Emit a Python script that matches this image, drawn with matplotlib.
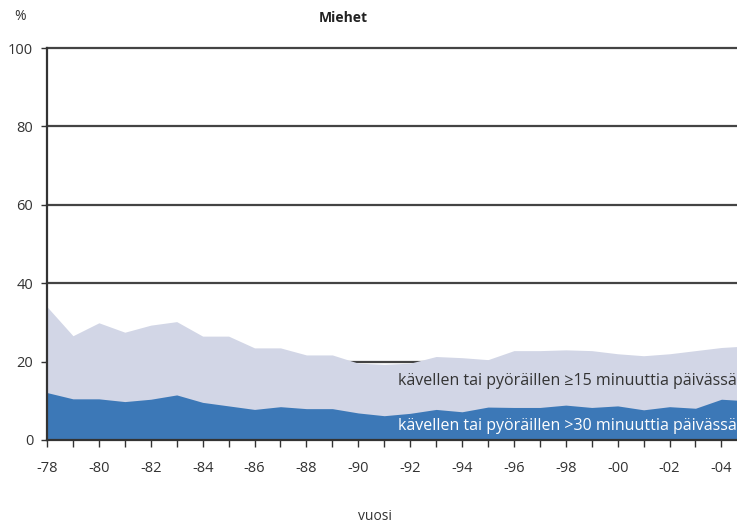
import numpy as np
import matplotlib
matplotlib.use('Agg')
import matplotlib.pyplot as plt

# data (percent of men)
years = np.arange(1978, 2006)
walk15 = [34.0, 26.6, 29.9, 27.5, 29.3, 30.2, 26.5, 26.5, 23.5, 23.5,
          21.7, 21.7, 19.6, 19.3, 19.6, 21.3, 21.0, 20.5, 22.8, 22.8,
          23.0, 22.8, 22.0, 21.5, 22.0, 22.8, 23.6, 24.0]
walk30 = [12.1, 10.5, 10.5, 9.8, 10.4, 11.5, 9.6, 8.7, 7.8, 8.5,
          8.0, 8.0, 6.9, 6.2, 6.8, 7.8, 7.2, 8.4, 8.3, 8.3,
          8.9, 8.3, 8.7, 7.7, 8.5, 8.1, 10.4, 10.0]
yticks = [0, 20, 40, 60, 80, 100]
xlabel_years = list(range(1978, 2005, 2))
xlabels = ['-%02d' % (y % 100) for y in xlabel_years]

plt.rcParams['font.family'] = ['Open Sans', 'DejaVu Sans']

fig = plt.figure(figsize=(7.37, 5.26), dpi=100)
ax = fig.add_axes([0.0638, 0.1635, 0.9362, 0.7452])

light = '#d2d6e6'
dark = '#3c78b7'
ax.fill_between(years, 0, walk15, color=light, lw=0, zorder=2)
ax.fill_between(years, 0, walk30, color=dark, lw=0, zorder=3)

for y in yticks[1:]:
    ax.axhline(y, color='#444444', lw=1.6, zorder=1, clip_on=False)

ax.set_xlim(1978, 2004.6)
ax.set_ylim(0, 100)
ax.set_yticks(yticks)
ax.set_yticklabels([str(v) for v in yticks], fontsize=10.5, color='#333333')
ax.set_xticks(xlabel_years)
ax.set_xticklabels(xlabels, fontsize=10.5, color='#333333')
ax.set_xticks(range(1978, 2005), minor=True)
ax.tick_params(axis='both', which='both', direction='out', color='#333333', width=1.0)
ax.tick_params(axis='x', which='major', length=5, pad=10)
ax.tick_params(axis='x', which='minor', length=5)
ax.tick_params(axis='y', length=4, pad=6)

for s in ['top', 'right']:
    ax.spines[s].set_visible(False)
ax.spines['left'].set_color('#333333')
ax.spines['left'].set_linewidth(1.6)
ax.spines['bottom'].set_color('#333333')
ax.spines['bottom'].set_linewidth(1.6)
ax.spines['left'].set_zorder(4)
ax.spines['bottom'].set_zorder(4)

fig.text(14 / 737, 1 - 16 / 526, '%', fontsize=10, color='#333333', va='center')
fig.text(343 / 737, 1 - 18 / 526, 'Miehet', fontsize=10, fontweight='bold',
         color='#222222', ha='center', va='center')
fig.text(375 / 737, 1 - 516 / 526, 'vuosi', fontsize=10, color='#333333',
         ha='center', va='center')

ax.text(0.999, 15.0, 'kävellen tai pyöräillen ≥15 minuuttia päivässä',
        transform=ax.get_yaxis_transform(), ha='right', va='center',
        fontsize=11.5, color='#333333', zorder=5)
ax.text(0.999, 3.6, 'kävellen tai pyöräillen >30 minuuttia päivässä',
        transform=ax.get_yaxis_transform(), ha='right', va='center',
        fontsize=11.5, color='white', zorder=5)

fig.savefig('out.png', dpi=100)
